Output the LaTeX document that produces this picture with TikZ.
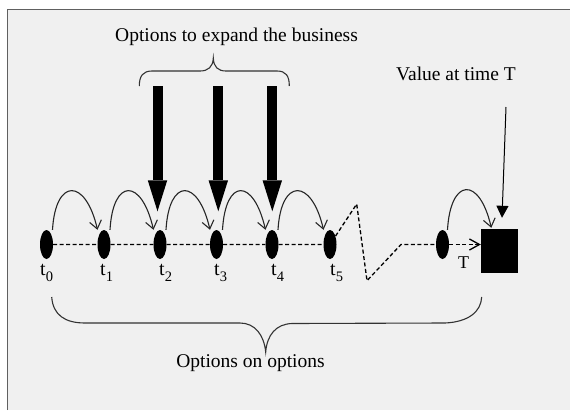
\documentclass[tikz,border=0pt]{standalone}
\usepackage{fontspec}
\setmainfont{Liberation Serif}
\usetikzlibrary{shapes.geometric,arrows.meta,calc}
\definecolor{bg}{HTML}{F0F0F0}
\definecolor{framec}{HTML}{606060}
\newcommand{\tsub}[1]{t\raisebox{-6pt}{\fontsize{14.5}{14.5}\selectfont #1}}
\begin{document}
\begin{tikzpicture}[x=1pt,y=-1pt,
  dot/.style={ellipse,fill=black,minimum width=13pt,minimum height=29pt,inner sep=0pt},
  hop/.style={draw=black!85,line width=1.1pt,-{Straight Barb[length=8pt,width=12pt]}},
  timeline/.style={dash pattern=on 4pt off 2.5pt,line width=1.3pt},
  bigarrow/.style={line width=10pt,-{Triangle[width=19.5pt,length=31pt,line width=0pt]}},
  lbl/.style={font=\fontsize{19.5}{22}\selectfont,inner sep=0pt,anchor=base},
  tlbl/.style={font=\fontsize{20}{22}\selectfont,inner sep=0pt,anchor=base west},
  bracestyle/.style={line width=1.1pt,draw=black!80}]
\useasboundingbox (0,0) rectangle (570,410);
\fill[white] (0,0) rectangle (570,410);
\fill[bg] (7,9) rectangle (570,410);
\draw[framec,line width=1pt] (7,410) -- (7,9) -- (570,9);

% time points
\node[dot] (t0) at (46.5,244.5) {};
\node[dot] (t1) at (104,244.5) {};
\node[dot] (t2) at (160,244.5) {};
\node[dot] (t3) at (216.5,244.5) {};
\node[dot] (t4) at (272,244.5) {};
\node[dot] (t5) at (330,244.5) {};
\node[dot] (tl) at (442.5,244.5) {};
\node[fill=black,minimum width=37pt,minimum height=44pt,inner sep=0pt] (sq) at (499.5,251) {};

% labels
\node[tlbl] (l0) at (40,275) {\tsub{0}};
\node[tlbl] (l1) at (100,275) {\tsub{1}};
\node[tlbl] (l2) at (159,275) {\tsub{2}};
\node[tlbl] (l3) at (214,275) {\tsub{3}};
\node[tlbl] (l4) at (271,275) {\tsub{4}};
\node[tlbl] (l5) at (330,275) {\tsub{5}};
\node[tlbl,font=\fontsize{18}{20}\selectfont] (lT) at (458,268) {T};

% dashed time line
\coordinate (z1) at (356.7,204);
\coordinate (z2) at (367,280.7);
\coordinate (z3) at (401,244.5);
\draw[timeline] (t0) -- (t1) -- (t2) -- (t3) -- (t4) -- (t5) -- (z1) -- (z2) -- (z3) -- (tl);
\draw[timeline,-{Straight Barb[length=10pt,width=11pt]}] (tl) -- (tl -| sq.west);

% hops
\foreach \a/\b in {t0/t1,t1/t2,t2/t3,t3/t4,t4/t5}
  \draw[hop] ($(\a.north)+(6,0)$) .. controls +(3,-52) and +(-12,-52) .. ($(\b.north)+(-6.5,0)$);
\draw[hop] ($(tl.north)+(5,0)$) .. controls +(3,-52) and +(-12,-52) .. ($(sq.north west)+(10.5,-1)$);

% big arrows
\coordinate (a2) at (157.5,86);
\coordinate (a3) at (218.3,86);
\coordinate (a4) at (272.3,86);
\draw[bigarrow] (a2) -- ($(a2 |- t2.north)+(0,-18.5)$);
\draw[bigarrow] (a3) -- ($(a3 |- t3.north)+(0,-18.5)$);
\draw[bigarrow] (a4) -- ($(a4 |- t4.north)+(0,-18.5)$);

% value arrow
\coordinate (v0) at (506,107);
\draw[line width=1pt,-{Triangle[width=12pt,length=12pt]}] (v0) -- ($(sq.north)+(2.5,-11)$);

% texts
\node[lbl] (top) at (236.5,41.5) {Options to expand the business};
\node[lbl] (val) at (456,80) {Value at time T};
\node[lbl] (oo) at (250.5,367.5) {Options on options};

% braces
\draw[bracestyle] (139.3,86) .. controls (139.3,76) and (143,71) .. (152,71) -- (200,71)
  .. controls (208,71) and (213,67) .. (213.3,58) .. controls (213.6,67) and (218,71) .. (226,71)
  -- (277,71) .. controls (286,71) and (289.3,76) .. (289.3,86);
\draw[bracestyle] (51.7,297) .. controls (53,315) and (65,323) .. (85,323) -- (240,323)
  .. controls (255,323) and (264,335) .. (265.7,352) .. controls (267,335) and (276,324) .. (292,323.5)
  -- (445,323) .. controls (468,322) and (481,312) .. (481.7,297);
\end{tikzpicture}
\end{document}
